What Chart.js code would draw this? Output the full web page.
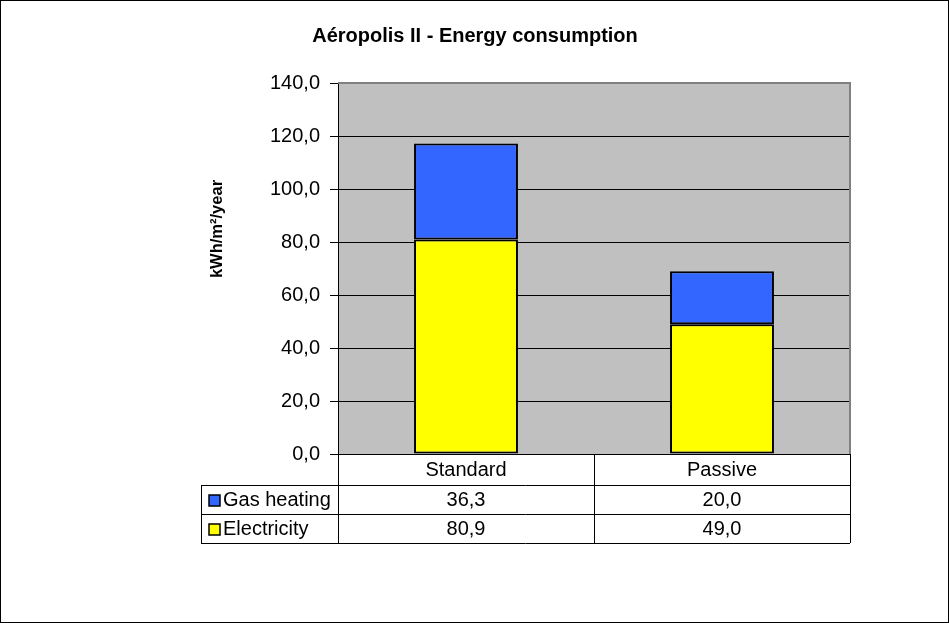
<!DOCTYPE html>
<html><head><meta charset="utf-8">
<script src="https://cdn.jsdelivr.net/npm/chart.js@4/dist/chart.umd.min.js"></script>
<style>body{margin:0;background:#fff}canvas{display:block}</style></head>
<body><canvas id="c" width="949" height="623"></canvas>
<script>
const categories = ['Standard', 'Passive'];
const seriesNames = ['Gas heating', 'Electricity'];
const gasHeating = [36.3, 20.0];
const electricity = [80.9, 49.0];
const yMin = 0, yMax = 140, yStep = 20;
const chartTitle = 'Aéropolis II - Energy consumption';
const yTitle = 'kWh/m²/year';

const FONT = '"Liberation Sans", Arial, sans-serif';
const GAS_COLOR = '#3366FF';
const ELEC_COLOR = '#FFFF00';
const fmt = v => v.toFixed(1).replace('.', ',');

const tablePlugin = {
  id: 'tablePlugin',
  beforeDraw(chart) {
    const {ctx, chartArea: a} = chart;
    ctx.save();
    ctx.fillStyle = '#fff';
    ctx.fillRect(0, 0, chart.width, chart.height);
    ctx.fillStyle = '#C0C0C0';
    ctx.fillRect(a.left, a.top, a.right - a.left, a.bottom - a.top);
    ctx.restore();
  },
  beforeDatasetsDraw(chart) {
    const {ctx, chartArea: a} = chart;
    ctx.save();
    ctx.strokeStyle = '#808080';
    ctx.lineWidth = 2;
    ctx.beginPath();
    ctx.moveTo(a.left, a.top);
    ctx.lineTo(a.right, a.top);
    ctx.lineTo(a.right, a.bottom);
    ctx.stroke();
    ctx.restore();
  },
  afterDraw(chart) {
    const {ctx, chartArea: a} = chart;
    const xs = chart.scales.x;
    const n = categories.length;
    const cw = (a.right - a.left) / n;
    const tableLeft = 201;
    const rowsY = [a.bottom, a.bottom + 31, a.bottom + 60, a.bottom + 89];
    ctx.save();
    ctx.strokeStyle = '#000';
    ctx.lineWidth = 1;
    ctx.beginPath();
    ctx.moveTo(a.left, rowsY[0] + 0.5); ctx.lineTo(a.right, rowsY[0] + 0.5);
    for (let r = 1; r < rowsY.length; r++) {
      ctx.moveTo(tableLeft, rowsY[r] + 0.5); ctx.lineTo(a.right, rowsY[r] + 0.5);
    }
    for (let i = 0; i <= n; i++) {
      const x = Math.round(a.left + i * cw) + 0.5;
      ctx.moveTo(x, rowsY[0]); ctx.lineTo(x, rowsY[3]);
    }
    ctx.moveTo(tableLeft + 0.5, rowsY[1]); ctx.lineTo(tableLeft + 0.5, rowsY[3]);
    ctx.stroke();

    ctx.fillStyle = '#000';
    ctx.font = '20px ' + FONT;
    ctx.textAlign = 'center';
    ctx.textBaseline = 'middle';
    const rowVals = [gasHeating, electricity];
    const colors = [GAS_COLOR, ELEC_COLOR];
    categories.forEach((c, i) => {
      const cx = xs.getPixelForValue(i);
      ctx.fillText(c, cx, (rowsY[0] + rowsY[1]) / 2 + 1);
      rowVals.forEach((vals, r) => {
        ctx.fillText(fmt(vals[i]), cx, (rowsY[r + 1] + rowsY[r + 2]) / 2 + 1);
      });
    });
    ctx.textAlign = 'left';
    seriesNames.forEach((s, r) => {
      const cy = (rowsY[r + 1] + rowsY[r + 2]) / 2;
      ctx.fillStyle = colors[r];
      ctx.fillRect(209, Math.round(cy) - 5, 11, 11);
      ctx.strokeStyle = '#000';
      ctx.lineWidth = 1.5;
      ctx.strokeRect(209, Math.round(cy) - 5, 11, 11);
      ctx.fillStyle = '#000';
      ctx.fillText(s, 223, cy + 1);
    });

    ctx.font = 'bold 20px ' + FONT;
    ctx.textAlign = 'center';
    ctx.fillText(chartTitle, 475, 36);

    ctx.save();
    ctx.translate(217, 229);
    ctx.rotate(-Math.PI / 2);
    ctx.font = 'bold 16.5px ' + FONT;
    ctx.fillText(yTitle, 0, 0);
    ctx.restore();

    ctx.strokeStyle = '#000';
    ctx.lineWidth = 1;
    ctx.strokeRect(0.5, 0.5, chart.width - 1, chart.height - 1);
    ctx.restore();
  }
};

new Chart(document.getElementById('c'), {
  type: 'bar',
  data: {
    labels: categories,
    datasets: [
      { label: seriesNames[1], data: electricity, backgroundColor: ELEC_COLOR },
      { label: seriesNames[0], data: gasHeating, backgroundColor: GAS_COLOR }
    ]
  },
  options: {
    responsive: false,
    animation: false,
    layout: { padding: { left: 0, right: 99, top: 83, bottom: 169 } },
    datasets: {
      bar: {
        barPercentage: 0.406, categoryPercentage: 1,
        borderColor: '#000', borderWidth: 2, borderSkipped: false
      }
    },
    plugins: { legend: { display: false }, title: { display: false }, tooltip: { enabled: false } },
    scales: {
      x: { stacked: true, display: false },
      y: {
        stacked: true, min: yMin, max: yMax,
        afterFit(scale) { scale.width = 338; },
        ticks: {
          stepSize: yStep, color: '#000', padding: 10,
          font: { family: FONT, size: 20 },
          callback: v => fmt(v)
        },
        grid: {
          color: c => (c.tick && c.tick.value === yMax) ? '#808080' : '#000',
          tickColor: '#000', tickLength: 8, lineWidth: 1
        },
        border: { color: '#000', width: 1 }
      }
    }
  },
  plugins: [tablePlugin]
});
</script>
</body></html>
